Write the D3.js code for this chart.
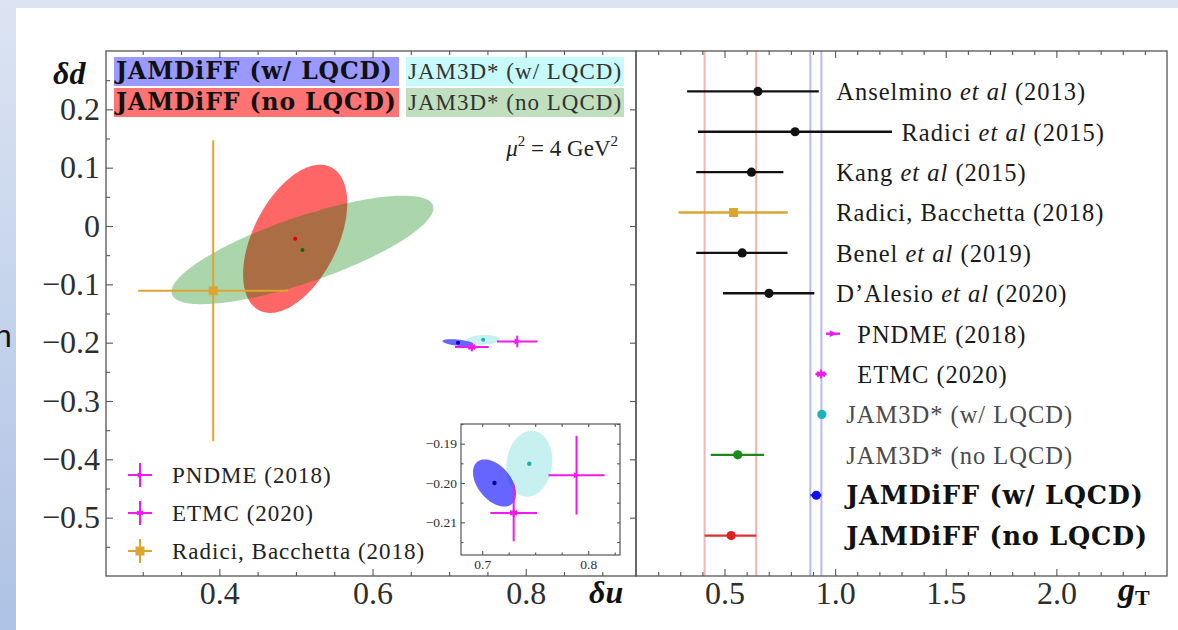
<!DOCTYPE html>
<html>
<head>
<meta charset="utf-8">
<script src="https://cdnjs.cloudflare.com/ajax/libs/d3/7.8.5/d3.min.js"></script>
<style>
  body { margin: 0; background: #fff; }
  svg text { font-family: "Liberation Serif", "Times New Roman", serif; fill: #222; }
  svg text.bold { font-family: "DejaVu Serif", serif; font-weight: bold; fill: #111; }
  .tick line { stroke: #555; stroke-width: 1.1; }
</style>
</head>
<body>
<svg id="chart" width="1178" height="630"></svg>
<script>
// ---------- data ----------
// left panel: 1-sigma ellipses [delta u, delta d, sigma u, sigma d, correlation]
const ellipseNames = ["JAMDiFF (no LQCD)", "JAM3D* (no LQCD)", "JAM3D* (w/ LQCD)", "JAMDiFF (w/ LQCD)"];
const ellipseFits = [
    [0.499, -0.022, 0.068, 0.127, 0.48],
    [0.5085, -0.041, 0.171, 0.093, 0.77],
    [0.7444, -0.1951, 0.0217, 0.0084, 0.1],
    [0.7116, -0.2000, 0.0203, 0.0060, -0.45]
];
// left panel: lattice points with error bars
const latticeNames = ["PNDME (2018)", "ETMC (2020)"];
const latticeDu = [0.789, 0.7297];
const latticeDuErr = [0.0265, 0.022];
const latticeDd = [-0.198, -0.2076];
const latticeDdErr = [0.010, 0.0072];
// left panel: Radici, Bacchetta (2018)
const radiciName = "Radici, Bacchetta (2018)";
const radiciPoint = [0.392, -0.111];
const radiciErr = [0.098, 0.258];

// right panel: tensor charge g_T
const gtLabels = [
    "Anselmino et al (2013)", "Radici et al (2015)", "Kang et al (2015)",
    "Radici, Bacchetta (2018)", "Benel et al (2019)", "D\u2019Alesio et al (2020)",
    "PNDME (2018)", "ETMC (2020)", "JAM3D* (w/ LQCD)", "JAM3D* (no LQCD)",
    "JAMDiFF (w/ LQCD)", "JAMDiFF (no LQCD)"
];
const gtValues = [0.651, 0.819, 0.622, 0.541, 0.580, 0.701, 0.990, 0.936, 0.940, 0.560, 0.915, 0.530];
const gtLow    = [0.331, 0.380, 0.372, 0.292, 0.372, 0.493, 0.958, 0.911, 0.928, 0.438, 0.888, 0.410];
const gtHigh   = [0.926, 1.257, 0.766, 0.786, 0.785, 0.906, 1.022, 0.961, 0.952, 0.679, 0.938, 0.643];

// ticks
const duTicks = [0.4, 0.6, 0.8];
const ddTicks = [0.2, 0.1, 0, -0.1, -0.2, -0.3, -0.4, -0.5];
const gtTicks = [0.5, 1.0, 1.5, 2.0];
const insetDuTicks = [0.7, 0.8];
const insetDdTicks = [-0.19, -0.20, -0.21];

// ---------- styles ----------
const MAGENTA = "#f01af0", GOLD = "#dca530";
const ellipseFill = ["rgba(255,0,0,0.6)", "rgba(0,128,0,0.33)", "rgba(0,191,191,0.22)", "rgba(0,0,255,0.6)"];
const ellipseDot = ["#e00000", "#0a6a0a", "#18b0a8", "#0000b0"];
const rowColor = ["#111", "#111", "#111", GOLD, "#111", "#111", MAGENTA, MAGENTA, "#1bb5b5", "#1a8a1a", "#1010ee", "#e02020"];
const rowMarker = ["circle", "circle", "circle", "square", "circle", "circle", "triangle", "asterisk", "circle", "circle", "circle", "circle"];
const rowBar = ["#111", "#111", "#111", GOLD, "#111", "#111", MAGENTA, MAGENTA, "#1bb5b5", "#1a8a1a", "#3030ee", "#e03030"];
// label column (in g_T units) for each row
const labelAt = [1.005, 1.300, 1.005, 1.005, 1.005, 1.005, 1.100, 1.100, 1.050, 1.050, 1.050, 1.050];

const svg = d3.select("#chart");

// slide background
const defs = svg.append("defs");
const grad = defs.append("linearGradient").attr("id", "side").attr("x1", 0).attr("y1", 0).attr("x2", 0).attr("y2", 1);
grad.append("stop").attr("offset", "0%").attr("stop-color", "#dce4f2");
grad.append("stop").attr("offset", "100%").attr("stop-color", "#adc2e5");
svg.append("rect").attr("width", 1178).attr("height", 630).attr("fill", "#dce4f2");
svg.append("rect").attr("width", 16).attr("height", 630).attr("fill", "url(#side)");
svg.append("rect").attr("x", 16).attr("y", 8).attr("width", 1162).attr("height", 622).attr("fill", "#fff");
svg.append("text").attr("x", -6).attr("y", 347).style("font-family", "Liberation Sans, sans-serif")
    .style("font-size", "32px").style("fill", "#111").text("n");

// ---------- scales ----------
const L = {x0: 106, x1: 636, y0: 51, y1: 576};
const R = {x0: 636, x1: 1167, y0: 51, y1: 576};
const I = {x0: 461, x1: 620, y0: 424, y1: 555};
const xDu = d3.scaleLinear().domain([0.252, 0.944]).range([L.x0, L.x1]);
const yDd = d3.scaleLinear().domain([-0.6, 0.3]).range([L.y1, L.y0]);
const xGt = d3.scaleLinear().domain([0.1, 2.5]).range([R.x0, R.x1]);
const yRow = d3.scaleLinear().domain([0, 13]).range([R.y0, R.y1]);
const xIn = d3.scaleLinear().domain([0.68, 0.83]).range([I.x0, I.x1]);
const yIn = d3.scaleLinear().domain([-0.2183, -0.185]).range([I.y1, I.y0]);

const fmt1 = d3.format(".1f");
const ddFmt = d => d === 0 ? "0" : fmt1(d);

function ellipsePoints(e) {
    const [cx, cy, sx, sy, r] = e;
    return d3.range(0, 2 * Math.PI + 0.01, Math.PI / 90).map(t =>
        [cx + sx * Math.cos(t), cy + sy * (r * Math.cos(t) + Math.sqrt(1 - r * r) * Math.sin(t))]);
}

function symbolPath(type, s) {
    if (type === "triangle") return `M${-s * 0.7},${-s * 0.75}L${s * 0.9},0L${-s * 0.7},${s * 0.75}Z`;
    if (type === "asterisk") {
        let p = "";
        [90, 30, 150].forEach(a => {
            const dx = s * Math.cos(a * Math.PI / 180), dy = s * Math.sin(a * Math.PI / 180);
            p += `M${-dx},${-dy}L${dx},${dy}`;
        });
        return p;
    }
    if (type === "square") return `M${-s},${-s}H${s}V${s}H${-s}Z`;
    return d3.symbol(d3.symbolCircle, Math.PI * s * s)();
}

function drawMarker(g, type, x, y, color, s) {
    const p = g.append("path").attr("d", symbolPath(type, s)).attr("transform", `translate(${x},${y})`);
    if (type === "asterisk") p.attr("fill", "none").attr("stroke", color).attr("stroke-width", 2);
    else p.attr("fill", color);
}

function crossBar(g, xs, ys, cx, cy, ex, ey, color, width) {
    g.append("line").attr("x1", xs(cx - ex)).attr("x2", xs(cx + ex)).attr("y1", ys(cy)).attr("y2", ys(cy))
        .attr("stroke", color).attr("stroke-width", width);
    g.append("line").attr("x1", xs(cx)).attr("x2", xs(cx)).attr("y1", ys(cy - ey)).attr("y2", ys(cy + ey))
        .attr("stroke", color).attr("stroke-width", width);
}

function styleAxis(g, size) {
    g.select(".domain").remove();
    g.selectAll("text").style("font-size", size + "px").style("fill", "#2e2e2e");
}

// ---------- left panel ----------
defs.append("clipPath").attr("id", "clipL").append("rect")
    .attr("x", L.x0).attr("y", L.y0).attr("width", L.x1 - L.x0).attr("height", L.y1 - L.y0);
const left = svg.append("g").attr("clip-path", "url(#clipL)");
const line = d3.line().x(d => xDu(d[0])).y(d => yDd(d[1]));

left.selectAll("path.ell").data(ellipseFits).enter().append("path").attr("class", "ell")
    .attr("d", d => line(ellipsePoints(d)) + "Z")
    .attr("fill", (d, i) => ellipseFill[i]);
left.selectAll("circle.ctr").data(ellipseFits).enter().append("circle").attr("class", "ctr")
    .attr("cx", d => xDu(d[0])).attr("cy", d => yDd(d[1])).attr("r", 2)
    .attr("fill", (d, i) => ellipseDot[i]);

crossBar(left, xDu, yDd, radiciPoint[0], radiciPoint[1], radiciErr[0], radiciErr[1], GOLD, 2);
drawMarker(left, "square", xDu(radiciPoint[0]), yDd(radiciPoint[1]), GOLD, 4.5);
latticeNames.forEach((n, i) => {
    crossBar(left, xDu, yDd, latticeDu[i], latticeDd[i], latticeDuErr[i], latticeDdErr[i], MAGENTA, 2);
    drawMarker(left, i === 0 ? "triangle" : "asterisk", xDu(latticeDu[i]), yDd(latticeDd[i]), MAGENTA, 4);
});

// left axes
const duMinor = d3.range(0.3, 0.93, 0.05).filter(v => !duTicks.some(t => Math.abs(t - v) < 1e-6));
const ddMinor = d3.range(-0.55, 0.29, 0.05).filter(v => !ddTicks.some(t => Math.abs(t - v) < 1e-6));
const axL = svg.append("g");
styleAxis(axL.append("g").attr("transform", `translate(0,${L.y1})`)
    .call(d3.axisBottom(xDu).tickValues(duTicks).tickSize(-7).tickPadding(5).tickFormat(fmt1)), 32);
styleAxis(axL.append("g").attr("transform", `translate(0,${L.y1})`)
    .call(d3.axisBottom(xDu).tickValues(duMinor).tickSize(-4).tickFormat("")), 10);
styleAxis(axL.append("g").attr("transform", `translate(0,${L.y0})`)
    .call(d3.axisTop(xDu).tickValues(duTicks).tickSize(-7).tickFormat("")), 10);
styleAxis(axL.append("g").attr("transform", `translate(0,${L.y0})`)
    .call(d3.axisTop(xDu).tickValues(duMinor).tickSize(-4).tickFormat("")), 10);
styleAxis(axL.append("g").attr("transform", `translate(${L.x0},0)`)
    .call(d3.axisLeft(yDd).tickValues(ddTicks).tickSize(-7).tickPadding(6).tickFormat(ddFmt)), 32);
styleAxis(axL.append("g").attr("transform", `translate(${L.x0},0)`)
    .call(d3.axisLeft(yDd).tickValues(ddMinor).tickSize(-4).tickFormat("")), 10);
styleAxis(axL.append("g").attr("transform", `translate(${L.x1},0)`)
    .call(d3.axisRight(yDd).tickValues(ddTicks).tickSize(-6).tickFormat("")), 10);

svg.append("rect").attr("x", L.x0).attr("y", L.y0).attr("width", L.x1 - L.x0).attr("height", L.y1 - L.y0)
    .attr("fill", "none").attr("stroke", "#555").attr("stroke-width", 1.3);

// axis titles
svg.append("text").attr("x", 53).attr("y", 84).style("font-size", "32px").style("font-weight", "bold")
    .style("font-style", "italic").style("fill", "#111").text("\u03b4d");
svg.append("text").attr("x", 589).attr("y", 603).style("font-size", "32px").style("font-weight", "bold")
    .style("font-style", "italic").style("fill", "#111").text("\u03b4u");

// top legend boxes
const legendRows = [
    {name: ellipseNames[3], fill: "rgba(0,0,255,0.4)", x: 114, w: 285, y: 57, bold: true},
    {name: ellipseNames[0], fill: "rgba(255,0,0,0.55)", x: 114, w: 285, y: 88, bold: true},
    {name: ellipseNames[2], fill: "rgba(0,230,230,0.22)", x: 406, w: 218, y: 57, bold: false},
    {name: ellipseNames[1], fill: "rgba(0,128,0,0.25)", x: 406, w: 218, y: 88, bold: false}
];
const lg = svg.append("g");
legendRows.forEach(r => {
    lg.append("rect").attr("x", r.x).attr("y", r.y).attr("width", r.w).attr("height", 29).attr("fill", r.fill);
    lg.append("text").attr("class", r.bold ? "bold" : null).attr("x", r.x + 2).attr("y", r.y + 22)
        .style("font-size", r.bold ? "23.5px" : "23px")
        .style("letter-spacing", r.bold ? "0.9px" : "1px").style("fill", r.bold ? "#111" : "#333").text(r.name);
});

// mu^2 label
const mu = svg.append("text").attr("x", 618).attr("y", 156).attr("text-anchor", "end").style("font-size", "23px");
mu.append("tspan").style("font-style", "italic").text("\u03bc");
mu.append("tspan").attr("dy", -10).style("font-size", "15px").text("2");
mu.append("tspan").attr("dy", 10).text(" = 4 GeV");
mu.append("tspan").attr("dy", -10).style("font-size", "15px").text("2");

// bottom-left legend
const bl = svg.append("g");
const blNames = [latticeNames[0], latticeNames[1], radiciName];
const blColor = [MAGENTA, MAGENTA, GOLD];
const blMarker = ["triangle", "asterisk", "square"];
blNames.forEach((n, i) => {
    const y = 475 + i * 38;
    bl.append("line").attr("x1", 128).attr("x2", 152).attr("y1", y).attr("y2", y).attr("stroke", blColor[i]).attr("stroke-width", 2);
    bl.append("line").attr("x1", 140).attr("x2", 140).attr("y1", y - 12).attr("y2", y + 12).attr("stroke", blColor[i]).attr("stroke-width", 2);
    drawMarker(bl, blMarker[i], 140, y, blColor[i], i === 2 ? 4.5 : 3.5);
    bl.append("text").attr("x", 172).attr("y", y).attr("dy", "0.35em").style("font-size", "23px")
        .style("letter-spacing", "1px").text(n);
});

// ---------- inset ----------
const inset = svg.append("g");
inset.append("rect").attr("x", I.x0).attr("y", I.y0).attr("width", I.x1 - I.x0).attr("height", I.y1 - I.y0).attr("fill", "#fff");
defs.append("clipPath").attr("id", "clipI").append("rect")
    .attr("x", I.x0).attr("y", I.y0).attr("width", I.x1 - I.x0).attr("height", I.y1 - I.y0);
const inPlot = inset.append("g").attr("clip-path", "url(#clipI)");
const lineIn = d3.line().x(d => xIn(d[0])).y(d => yIn(d[1]));
const insetIdx = [2, 3];
insetIdx.forEach(i => {
    inPlot.append("path").attr("d", lineIn(ellipsePoints(ellipseFits[i])) + "Z").attr("fill", ellipseFill[i]);
});
insetIdx.forEach(i => {
    inPlot.append("circle").attr("cx", xIn(ellipseFits[i][0])).attr("cy", yIn(ellipseFits[i][1])).attr("r", 2.2)
        .attr("fill", ellipseDot[i]);
});
latticeNames.forEach((n, i) => {
    crossBar(inPlot, xIn, yIn, latticeDu[i], latticeDd[i], latticeDuErr[i], latticeDdErr[i], MAGENTA, 2);
    drawMarker(inPlot, i === 0 ? "triangle" : "asterisk", xIn(latticeDu[i]), yIn(latticeDd[i]), MAGENTA, 4);
});
const inDuMinor = [0.725, 0.75, 0.775, 0.825];
const inDdMinor = [-0.215, -0.205, -0.195, -0.185];
styleAxis(inset.append("g").attr("transform", `translate(0,${I.y1})`)
    .call(d3.axisBottom(xIn).tickValues(insetDuTicks).tickSize(-4).tickPadding(4).tickFormat(fmt1)), 13.5);
styleAxis(inset.append("g").attr("transform", `translate(0,${I.y1})`)
    .call(d3.axisBottom(xIn).tickValues(inDuMinor).tickSize(-2.5).tickFormat("")), 10);
styleAxis(inset.append("g").attr("transform", `translate(0,${I.y0})`)
    .call(d3.axisTop(xIn).tickValues(insetDuTicks.concat(inDuMinor)).tickSize(-3).tickFormat("")), 10);
styleAxis(inset.append("g").attr("transform", `translate(${I.x0},0)`)
    .call(d3.axisLeft(yIn).tickValues(insetDdTicks).tickSize(-4).tickPadding(4).tickFormat(d3.format(".2f"))), 13.5);
styleAxis(inset.append("g").attr("transform", `translate(${I.x0},0)`)
    .call(d3.axisLeft(yIn).tickValues(inDdMinor).tickSize(-2.5).tickFormat("")), 10);
styleAxis(inset.append("g").attr("transform", `translate(${I.x1},0)`)
    .call(d3.axisRight(yIn).tickValues(insetDdTicks.concat(inDdMinor)).tickSize(-3).tickFormat("")), 10);
inset.append("rect").attr("x", I.x0).attr("y", I.y0).attr("width", I.x1 - I.x0).attr("height", I.y1 - I.y0)
    .attr("fill", "none").attr("stroke", "#555").attr("stroke-width", 1.2);

// ---------- right panel ----------
const right = svg.append("g");
// error bands of the two JAMDiFF results: no LQCD (pink), w/ LQCD (blue)
[[11, "#f4b4b4"], [10, "#b9b9f2"]].forEach(([k, c]) => {
    [gtLow[k], gtHigh[k]].forEach(v => {
        right.append("line").attr("x1", xGt(v)).attr("x2", xGt(v)).attr("y1", R.y0).attr("y2", R.y1)
            .attr("stroke", c).attr("stroke-width", 2);
    });
});

gtLabels.forEach((lab, i) => {
    const y = yRow(i + 1);
    right.append("line").attr("x1", xGt(gtLow[i])).attr("x2", xGt(gtHigh[i])).attr("y1", y).attr("y2", y)
        .attr("stroke", rowBar[i]).attr("stroke-width", 2.4);
    const s = rowMarker[i] === "square" ? 4.5 : rowMarker[i] === "circle" ? 4.6 : 4.5;
    drawMarker(right, rowMarker[i], xGt(gtValues[i]), y, rowColor[i], s);

    const bold = lab.startsWith("JAMDiFF");
    const t = right.append("text").attr("class", bold ? "bold" : null).attr("x", xGt(labelAt[i])).attr("y", y).attr("dy", "0.36em")
        .style("font-size", bold ? "25.5px" : "24.5px")
        .style("letter-spacing", bold ? "0.8px" : "1px")
        .style("fill", lab.startsWith("JAM3D") ? "#4a4a4a" : bold ? "#111" : "#1a1a1a");
    const m = lab.match(/^(.*?)(et al)(.*)$/);
    if (m) {
        t.append("tspan").text(m[1]);
        t.append("tspan").style("font-style", "italic").text(m[2]);
        t.append("tspan").text(m[3]);
    } else {
        t.text(lab);
    }
});

const gtMinor = d3.range(0.2, 2.45, 0.1).filter(v => !gtTicks.some(t => Math.abs(t - v) < 1e-6));
const axR = svg.append("g");
styleAxis(axR.append("g").attr("transform", `translate(0,${R.y1})`)
    .call(d3.axisBottom(xGt).tickValues(gtTicks).tickSize(-7).tickPadding(5).tickFormat(fmt1)), 32);
styleAxis(axR.append("g").attr("transform", `translate(0,${R.y1})`)
    .call(d3.axisBottom(xGt).tickValues(gtMinor).tickSize(-4).tickFormat("")), 10);
styleAxis(axR.append("g").attr("transform", `translate(0,${R.y0})`)
    .call(d3.axisTop(xGt).tickValues(gtTicks).tickSize(-7).tickFormat("")), 10);
styleAxis(axR.append("g").attr("transform", `translate(0,${R.y0})`)
    .call(d3.axisTop(xGt).tickValues(gtMinor).tickSize(-4).tickFormat("")), 10);
svg.append("rect").attr("x", R.x0).attr("y", R.y0).attr("width", R.x1 - R.x0).attr("height", R.y1 - R.y0)
    .attr("fill", "none").attr("stroke", "#555").attr("stroke-width", 1.3);

const gt = svg.append("text").attr("x", 1118).attr("y", 601).style("fill", "#111");
gt.append("tspan").style("font-size", "34px").style("font-weight", "bold").style("font-style", "italic").text("g");
gt.append("tspan").attr("dy", 4).style("font-size", "22px").style("font-weight", "bold").text("T");
</script>
</body>
</html>
